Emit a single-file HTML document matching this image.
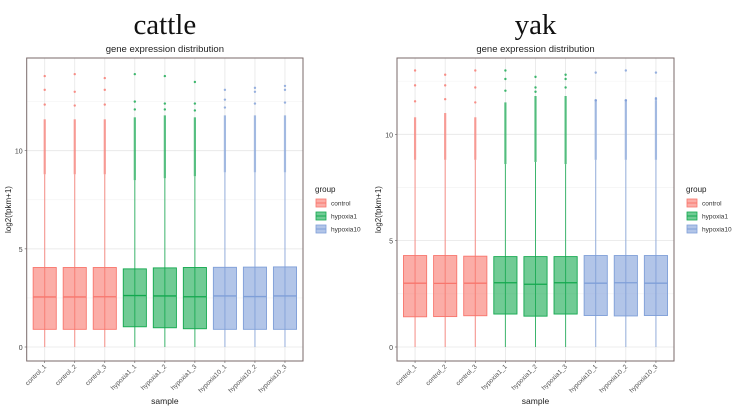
<!DOCTYPE html>
<html><head><meta charset="utf-8"><style>
body{margin:0;background:#fff;width:736px;height:410px;overflow:hidden;font-family:"Liberation Sans",sans-serif}
svg{display:block}
</style></head><body>
<svg id="chart" width="736" height="410"></svg>
<script>
const samples=["control_1","control_2","control_3","hypoxia1_1","hypoxia1_2","hypoxia1_3","hypoxia10_1","hypoxia10_2","hypoxia10_3"];
const groups=["control","control","control","hypoxia1","hypoxia1","hypoxia1","hypoxia10","hypoxia10","hypoxia10"];
const cattleQ1=[0.9,0.9,0.9,1.03,0.98,0.93,0.9,0.9,0.9];
const cattleMed=[2.55,2.55,2.56,2.62,2.6,2.56,2.6,2.57,2.6];
const cattleQ3=[4.05,4.05,4.05,3.98,4.03,4.05,4.06,4.07,4.08];
const cattleDenseLo=[8.8,8.8,8.8,8.5,8.6,8.7,8.9,8.9,8.9];
const cattleDenseHi=[11.6,11.6,11.6,11.7,11.8,11.7,11.8,11.8,11.8];
const cattleMax=[13.8,13.9,13.7,13.9,13.8,13.5,13.1,13.2,13.3];
const cattleMid=[13.1,13.0,13.1,12.5,12.4,12.4,12.6,13.0,13.1];
const yakQ1=[1.42,1.43,1.47,1.55,1.45,1.55,1.48,1.46,1.48];
const yakMed=[3.0,2.99,3.0,3.02,2.95,3.02,3.0,3.02,3.0];
const yakQ3=[4.3,4.3,4.27,4.25,4.25,4.25,4.3,4.3,4.3];
const yakDenseLo=[8.8,8.8,8.8,8.6,8.7,8.6,8.8,8.8,8.8];
const yakDenseHi=[10.8,11.0,10.8,11.5,11.8,11.8,11.6,11.6,11.6];
const yakMax=[13.0,12.8,13.0,13.0,12.7,12.8,12.9,13.0,12.9];
const yakMid=[12.3,12.3,12.2,12.6,12.2,12.6,11.6,11.6,11.7];
const colors={control:"#F8766D",hypoxia1:"#12A84E",hypoxia10:"#7F9FD8"};
const NS="http://www.w3.org/2000/svg";
const svg=document.getElementById("chart");
function mk(tag,attrs,parent){const e=document.createElementNS(NS,tag);for(const k in attrs)e.setAttribute(k,attrs[k]);(parent||svg).appendChild(e);return e;}
function panel(ox,pl,pr,y0px,unit,title,name,q1,med,q3,dlo,dhi,mx,mid,legX){
  const g=mk("g",{});
  
  
  const top=58,bot=361;
  const y=v=>y0px-v*unit;
  const step=(pr-pl)/9.2, x=i=>pl+step*(i+0.6);
  const t=mk("text",{x:(pl+pr)/2,y:34,"text-anchor":"middle","font-family":"Liberation Serif,serif","font-size":29,fill:"#111"},g);t.textContent=title;
  
  
  const st=mk("text",{x:(pl+pr)/2,y:52,"text-anchor":"middle","font-size":9.5,fill:"#222"},g);st.textContent="gene expression distribution";
  
  
  mk("rect",{x:pl,y:top,width:pr-pl,height:bot-top,fill:"#fff"},g);
  [2.5,7.5,12.5].forEach(v=>{if(y(v)>top)mk("line",{x1:pl,x2:pr,y1:y(v),y2:y(v),stroke:"#f2f2f2","stroke-width":0.6},g);});
  [0,5,10].forEach(v=>{mk("line",{x1:pl,x2:pr,y1:y(v),y2:y(v),stroke:"#e6e6e6","stroke-width":0.8},g);
    const tl=mk("text",{x:pl-4,y:y(v)+3,"text-anchor":"end","font-size":7,fill:"#444"},g);tl.textContent=v;
    
    
    mk("line",{x1:pl-2,x2:pl,y1:y(v),y2:y(v),stroke:"#555","stroke-width":0.6},g);});
  samples.forEach((s,i)=>{mk("line",{x1:x(i),x2:x(i),y1:top,y2:bot,stroke:"#e6e6e6","stroke-width":0.8},g);});
  const bw=step*0.77;
  samples.forEach((s,i)=>{const c=colors[groups[i]];
    const bx=mk("g",{},g);
    
    
    mk("line",{x1:x(i),x2:x(i),y1:y(0),y2:y(dlo[i]),stroke:c,"stroke-width":1,opacity:0.8},bx);
    mk("rect",{x:x(i)-1.1,y:y(dhi[i]),width:2.2,height:y(dlo[i])-y(dhi[i]),fill:c,opacity:0.7},bx);
    [mid[i],(mid[i]+dhi[i])/2,mx[i]].forEach(v=>mk("circle",{cx:x(i),cy:y(v),r:1.2,fill:c,opacity:0.8},bx));
    mk("rect",{x:x(i)-bw/2,y:y(q3[i]),width:bw,height:y(q1[i])-y(q3[i]),fill:c,"fill-opacity":0.6,stroke:c,"stroke-width":0.9},bx);
    mk("line",{x1:x(i)-bw/2,x2:x(i)+bw/2,y1:y(med[i]),y2:y(med[i]),stroke:c,"stroke-width":1.3},bx);
    mk("line",{x1:x(i),x2:x(i),y1:bot,y2:bot+2,stroke:"#555","stroke-width":0.6},g);
    const xl=mk("text",{transform:`translate(${x(i)+2},${bot+6}) rotate(-45)`,"text-anchor":"end","font-size":6.5,fill:"#555"},g);xl.textContent=s;
    
    
  });
  mk("rect",{x:pl,y:top,width:pr-pl,height:bot-top,fill:"none",stroke:"#7a6a6a","stroke-width":1},g);
  const xt=mk("text",{x:(pl+pr)/2,y:404,"text-anchor":"middle","font-size":8.5,fill:"#222"},g);xt.textContent="sample";
  
  
  const yt=mk("text",{transform:`translate(${ox+11},${(top+bot)/2}) rotate(-90)`,"text-anchor":"middle","font-size":8,fill:"#222"},g);yt.textContent="log2(fpkm+1)";
  
  
  const lg=mk("g",{},g);
  
  
  const lt=mk("text",{x:legX,y:192,"font-size":8,fill:"#222"},lg);lt.textContent="group";
  ["control","hypoxia1","hypoxia10"].forEach((k,j)=>{const yy=203+j*13;
    const e=mk("g",{},lg);
    
    
    mk("rect",{x:legX+1,y:yy-4,width:10,height:8,fill:colors[k],"fill-opacity":0.6,stroke:colors[k],"stroke-width":0.8},e);
    mk("line",{x1:legX+1,x2:legX+11,y1:yy,y2:yy,stroke:colors[k],"stroke-width":1},e);
    const tx=mk("text",{x:legX+16,y:yy+2.5,"font-size":6.5,fill:"#333"},e);tx.textContent=k;});
}
panel(0,26.7,303,347,19.63,"cattle","cattle",cattleQ1,cattleMed,cattleQ3,cattleDenseLo,cattleDenseHi,cattleMax,cattleMid,315);
panel(370,397,674,347,21.27,"yak","yak",yakQ1,yakMed,yakQ3,yakDenseLo,yakDenseHi,yakMax,yakMid,686);
</script>
</body></html>
